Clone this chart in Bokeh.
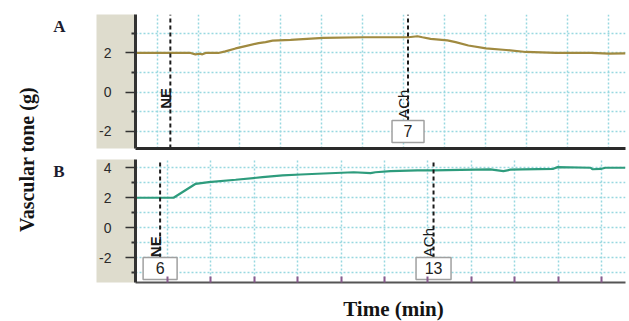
from math import pi
from bokeh.plotting import figure
from bokeh.models import Range1d, FixedTicker, LinearAxis, Grid, ColumnDataSource
from bokeh.layouts import row, column
from bokeh.embed import file_html
from bokeh.resources import INLINE
from bokeh.core.properties import value

# ---------------- data ----------------
# Panel A: time (grid units) and vascular tone (g)
a_time = [0.47, 1.81, 1.93, 2.03, 2.10, 2.18, 2.49, 2.66, 2.91, 3.15,
          3.47, 3.64, 3.81, 4.25, 5.05, 6.03, 7.12, 7.34, 7.46, 7.66,
          8.07, 8.27, 8.58, 9.01, 9.50, 9.98, 10.72, 11.57, 12.00, 12.41]
a_tone = [2.00, 2.00, 1.93, 1.96, 1.93, 2.00, 2.00, 2.08, 2.23, 2.35,
          2.50, 2.55, 2.63, 2.67, 2.77, 2.80, 2.80, 2.85, 2.80, 2.72,
          2.64, 2.55, 2.38, 2.23, 2.15, 2.05, 2.00, 2.00, 1.97, 1.98]
# Panel B
b_time = [0.26, 1.14, 1.65, 1.95, 2.57, 3.19, 3.65, 4.07, 4.46, 5.29,
          5.68, 5.79, 6.14, 6.76, 7.13, 7.75, 8.44, 8.74, 8.90, 9.18,
          9.89, 9.99, 10.75, 10.79, 10.98, 11.09, 11.55]
b_tone = [2.00, 2.00, 2.93, 3.04, 3.20, 3.37, 3.49, 3.55, 3.60, 3.70,
          3.64, 3.70, 3.77, 3.82, 3.83, 3.86, 3.89, 3.78, 3.87, 3.89,
          3.93, 4.04, 4.00, 3.90, 3.92, 4.00, 4.00]

# event markers
a_events = [1.32, 7.11]
a_event_names = ["NE", "ACh"]
a_event_styles = ["bold", "normal"]
a_event_label_y = [-0.85, -1.36]
a_comments = ["", "7"]
b_events = [0.83, 7.13]
b_event_names = ["NE", "ACh"]
b_event_styles = ["bold", "normal"]
b_event_label_y = [-1.96, -1.96]
b_comments = ["6", "13"]

# ticks
a_yticks = [-2, 0, 2]
a_yminor = [-3, -1, 1, 3]
a_ygrid = [-2, -1, 0, 1, 2, 3]
a_xgrid = list(range(1, 13))
b_yticks = [-2, 0, 2, 4]
b_yminor = [-3, -1, 1, 3]
b_ygrid = [-3, -2, -1, 0, 1, 2, 3, 4]
b_xgrid = list(range(1, 12))
b_xticks = list(range(1, 12))

y_title = "Vascular tone (g)"
x_title = "Time (min)"
panel_letters = ["A", "B"]

SANS = "Liberation Sans"
SERIF = "Liberation Serif"
GRID_COLOR = "#98d8e0"
AXIS_BG = "#dedccd"
W = 547
LEFT = 53   # left border of the panels (frames start at x = 82 + 53)
RIGHT = 4


def make_panel(height, b_top, b_bottom, xr, yr, t, v, color,
               ev_t, ev_names, ev_styles, ev_label_y, comments, comment_y,
               comment_w, yticks, yminor, ygrid, xgrid, xticks=None):
    p = figure(width=W, height=height, x_range=Range1d(*xr), y_range=Range1d(*yr),
               output_backend="svg", toolbar_location=None, title=None,
               x_axis_type=None, y_axis_type=None,
               min_border_left=LEFT, min_border_right=RIGHT,
               min_border_top=b_top, min_border_bottom=b_bottom)
    p.outline_line_color = None
    p.background_fill_color = "white"
    p.border_fill_color = "white"

    # grid
    p.add_layout(Grid(dimension=0, ticker=FixedTicker(ticks=xgrid),
                      grid_line_color=GRID_COLOR, grid_line_dash="2 2", grid_line_width=1.5))
    p.add_layout(Grid(dimension=1, ticker=FixedTicker(ticks=ygrid),
                      grid_line_color=GRID_COLOR, grid_line_dash="2 2", grid_line_width=1.5))

    # y axis
    yax = LinearAxis(ticker=FixedTicker(ticks=yticks, minor_ticks=yminor))
    yax.axis_line_color = "#333333"
    yax.axis_line_width = 3
    yax.major_tick_out = 10
    yax.major_tick_in = 0
    yax.major_tick_line_color = "#333333"
    yax.major_tick_line_width = 1.5
    yax.minor_tick_out = 4
    yax.minor_tick_in = 0
    yax.minor_tick_line_color = "#333333"
    yax.minor_tick_line_width = 2
    yax.major_label_standoff = 14
    yax.major_label_text_font = SANS
    yax.major_label_text_font_size = "14px"
    yax.major_label_text_color = "#2a2a2a"
    yax.major_label_overrides = {k: str(k) for k in yticks}
    if "background_fill_color" in yax.properties():
        yax.background_fill_color = AXIS_BG
    p.add_layout(yax, "left")

    # x axis (no tick labels)
    xax = LinearAxis(ticker=FixedTicker(ticks=xticks or []))
    xax.axis_line_color = "#2a2a2a" if xticks is None else "#555555"
    xax.axis_line_width = 3 if xticks is None else 2
    xax.major_tick_out = 0
    xax.major_tick_in = 6
    xax.major_tick_line_color = "#8b5b8e"
    xax.major_tick_line_width = 2
    xax.minor_tick_line_color = None
    xax.major_label_text_font_size = "1px"
    xax.major_label_standoff = 0
    if xticks:
        xax.major_label_overrides = {k: "" for k in xticks}
    p.add_layout(xax, "below")

    # trace
    p.line(t, v, line_color=color, line_width=2.2)

    # event lines, labels and comment boxes
    ppu = (height - b_top - b_bottom) / (yr[1] - yr[0])
    box_half = 11 / ppu
    bottoms = [comment_y + box_half if c else yr[0] for c in comments]
    p.segment(x0=ev_t, y0=bottoms, x1=ev_t, y1=[yr[1]] * len(ev_t),
              line_color="#1a1a1a", line_width=2, line_dash="4 3")
    lab = ColumnDataSource(dict(x=ev_t, y=ev_label_y, text=ev_names, style=ev_styles))
    p.text(x="x", y="y", text="text", source=lab, angle=pi / 2, x_offset=-5,
           text_align="left", text_baseline="alphabetic", text_font=value(SANS),
           text_font_size="15px", text_font_style="style", text_color="#1a1a1a")
    cx = [e for e, c in zip(ev_t, comments) if c]
    ct = [c for c in comments if c]
    cw = [comment_w[i] for i, c in enumerate(comments) if c]
    box = ColumnDataSource(dict(x=cx, y=[comment_y] * len(cx), text=ct, w=cw))
    p.rect(x="x", y="y", width="w", height=22, source=box, width_units="screen",
           height_units="screen", fill_color="white", line_color="#a0a0a0", line_width=1.5)
    p.text(x="x", y="y", text="text", source=box, text_align="center",
           text_baseline="middle", text_font=value(SANS), text_font_size="16px",
           text_color="#222222")
    return p


pa = make_panel(153, 14, 5, (0.471, 12.408), (-2.87, 3.96), a_time, a_tone, "#a08a40",
                a_events, a_event_names, a_event_styles, a_event_label_y, a_comments,
                -2.0, [0, 32], a_yticks, a_yminor, a_ygrid, a_xgrid)
pb = make_panel(132, 6, 3, (0.263, 11.553), (-3.65, 4.55), b_time, b_tone, "#2e9c7d",
                b_events, b_event_names, b_event_styles, b_event_label_y, b_comments,
                -2.71, [34, 35], b_yticks, b_yminor, b_ygrid, b_xgrid, xticks=b_xticks)


def blank(width, height, x0, x1, left=0, right=0):
    f = figure(width=width, height=height, x_range=Range1d(x0, x1), y_range=Range1d(0, height),
               output_backend="svg", toolbar_location=None, title=None,
               x_axis_type=None, y_axis_type=None,
               min_border_left=left, min_border_right=right, min_border_top=0, min_border_bottom=0)
    f.outline_line_color = None
    return f


# left strip with the shared y title and panel letters
pl = blank(82, 321, 0, 82)
pl.text(x=[26], y=[321 - 159], text=[y_title], angle=pi / 2, text_align="center",
        text_baseline="middle", text_font=value(SERIF), text_font_style="bold",
        text_font_size="20px", text_color="#141414")
pl.text(x=[59, 58.5], y=[321 - 26, 321 - 171], text=panel_letters, text_align="center",
        text_baseline="middle", text_font=value(SERIF), text_font_style="bold",
        text_font_size="17px", text_color="#1d1d2e")

# bottom strip with the x title (frame aligned with the panels: page x 135..625)
pt = blank(W, 36, 135, 625, left=LEFT, right=RIGHT)
pt.text(x=[393], y=[36 - 23], text=[x_title], text_align="center",
        text_baseline="middle", text_font=value(SERIF), text_font_style="bold",
        text_font_size="21px", text_color="#141414")

layout = row(pl, column(pa, pb, pt))
open("out.html", "w").write(file_html(layout, INLINE))
